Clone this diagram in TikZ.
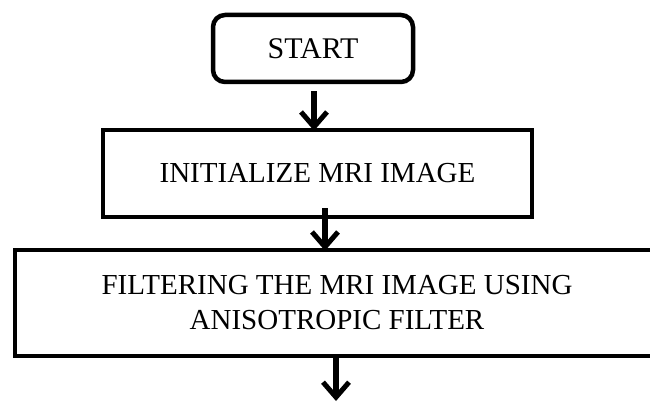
\documentclass[tikz,border=0pt]{standalone}
\usepackage{fontspec}
\setmainfont{Liberation Serif}
\usetikzlibrary{arrows.meta}
\begin{document}
\begin{tikzpicture}[x=1pt,y=-1pt,
  box/.style={draw=black,line width=4.5pt,inner sep=0pt,align=center,
    font=\fontsize{29}{35}\selectfont},
  arr/.style={line width=5.5pt,-{Straight Barb[length=15pt,width=26pt,line width=5pt]}}]
\useasboundingbox (0,0) rectangle (650,403);
\begin{scope}
\clip (0,0) rectangle (650,403);
\node[box,rounded corners=12pt,minimum width=200pt,minimum height=67pt,
  font=\fontsize{30}{36}\selectfont] (start) at (313,48.5) {START};
\node[box,minimum width=429pt,minimum height=87pt] (init) at (317.5,173.5) {INITIALIZE MRI IMAGE};
\node[box,minimum width=644pt,minimum height=106pt] (filt) at (337,303) {FILTERING THE MRI IMAGE USING\\ANISOTROPIC FILTER};
\coordinate (end) at (336,401);
\draw[arr] ([xshift=1pt,yshift=-7pt]start.south) -- ([xshift=1pt,yshift=-3pt]start.south |- init.north);
\draw[arr] ([xshift=7.5pt,yshift=11pt]init.south) -- ([xshift=7.5pt,yshift=-3pt]init.south |- filt.north);
\draw[arr] ([xshift=-1pt,yshift=4pt]filt.south) -- (end);
\end{scope}
\end{tikzpicture}
\end{document}
